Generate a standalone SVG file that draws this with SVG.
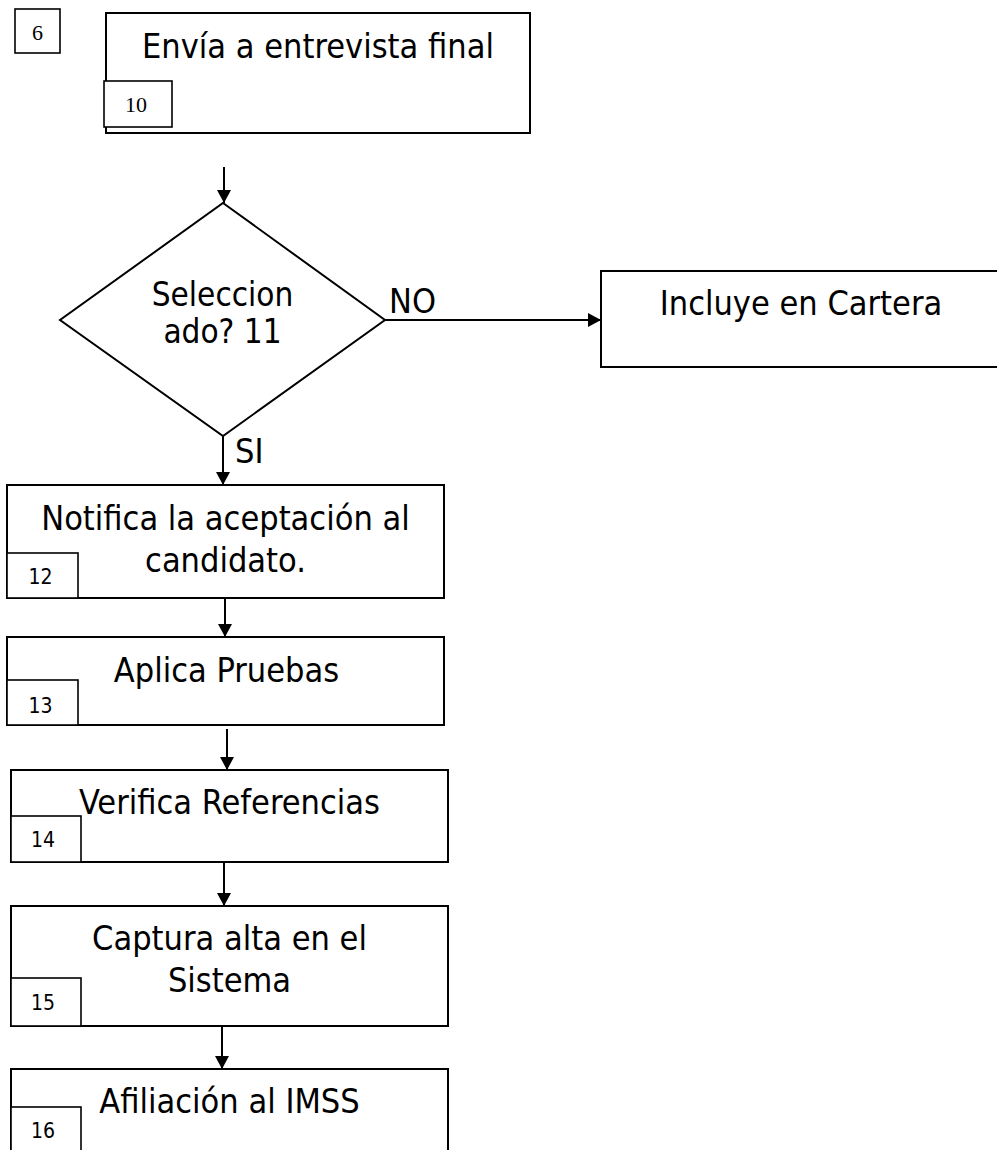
<svg xmlns="http://www.w3.org/2000/svg" width="997" height="1150" viewBox="0 0 997 1150">
<style>
.box{fill:#fff;stroke:#000;stroke-width:2}
.num{fill:#fff;stroke:#000;stroke-width:1.6}
.t{font-family:"DejaVu Sans Condensed","DejaVu Sans","Liberation Sans",sans-serif;font-stretch:condensed;font-size:34px;fill:#000;text-anchor:middle}
.td{font-family:"DejaVu Sans Condensed","DejaVu Sans","Liberation Sans",sans-serif;font-stretch:condensed;font-size:33px;fill:#000;text-anchor:middle}
.lbl{font-family:"DejaVu Sans Condensed","DejaVu Sans","Liberation Sans",sans-serif;font-stretch:condensed;font-size:34px;fill:#000}
.ns{font-family:"DejaVu Sans Condensed","DejaVu Sans","Liberation Sans",sans-serif;font-stretch:condensed;font-size:21px;fill:#000;text-anchor:middle}
.nr{font-family:"Liberation Serif","Times New Roman",serif;font-size:22px;fill:#000;text-anchor:middle}
.c{stroke:#000;stroke-width:2;fill:none;marker-end:url(#ah)}
</style>
<defs>
<marker id="ah" markerUnits="userSpaceOnUse" markerWidth="14" markerHeight="14" refX="13" refY="7" orient="auto">
<path d="M0,0 L13,7 L0,14 Z" fill="#000"/>
</marker>
</defs>
<rect width="997" height="1150" fill="#fff"/>
<g id="n6">
<rect class="num" x="15" y="9" width="45" height="44"/>
<text class="nr" x="37.5" y="40">6</text>
</g>
<g id="n10">
<rect class="box" x="106" y="13" width="424" height="120"/>
<text class="t" x="318" y="58">Envía a entrevista final</text>
<rect class="num" x="104" y="81" width="68" height="46"/>
<text class="nr" x="136" y="112">10</text>
</g>
<g id="n11">
<polygon class="box" points="223,203 385,320 223,436 60,320"/>
<text class="td" x="222.5" y="306">Seleccion</text>
<text class="td" x="222.5" y="343">ado? 11</text>
</g>
<g id="ncartera">
<rect class="box" x="601" y="271" width="397" height="96"/>
<text class="t" x="801" y="315">Incluye en Cartera</text>
</g>
<g id="n12">
<rect class="box" x="7" y="485" width="437" height="113"/>
<text class="t" x="225.5" y="530">Notifica la aceptación al</text>
<text class="t" x="225.5" y="572">candidato.</text>
<rect class="num" x="7" y="553" width="71" height="45"/>
<text class="ns" x="40.5" y="584">12</text>
</g>
<g id="n13">
<rect class="box" x="7" y="637" width="437" height="88"/>
<text class="t" x="226.5" y="682">Aplica Pruebas</text>
<rect class="num" x="7" y="680" width="71" height="45"/>
<text class="ns" x="40.5" y="713">13</text>
</g>
<g id="n14">
<rect class="box" x="11" y="770" width="437" height="92"/>
<text class="t" x="229.5" y="814">Verifica Referencias</text>
<rect class="num" x="11" y="816" width="70" height="46"/>
<text class="ns" x="43" y="847">14</text>
</g>
<g id="n15">
<rect class="box" x="11" y="906" width="437" height="120"/>
<text class="t" x="229.5" y="950">Captura alta en el</text>
<text class="t" x="229.5" y="992">Sistema</text>
<rect class="num" x="11" y="978" width="70" height="48"/>
<text class="ns" x="43" y="1010">15</text>
</g>
<g id="n16">
<rect class="box" x="11" y="1069" width="437" height="100"/>
<text class="t" x="229.5" y="1113">Afiliación al IMSS</text>
<rect class="num" x="11" y="1107" width="70" height="60"/>
<text class="ns" x="43" y="1138">16</text>
</g>
<g id="connectors">
<line class="c" x1="224" y1="167" x2="224" y2="203"/>
<line class="c" x1="385" y1="320" x2="601" y2="320"/>
<line class="c" x1="223" y1="436" x2="223" y2="485"/>
<line class="c" x1="225" y1="598" x2="225" y2="637"/>
<line class="c" x1="227" y1="729" x2="227" y2="770"/>
<line class="c" x1="224" y1="862" x2="224" y2="906"/>
<line class="c" x1="222" y1="1026" x2="222" y2="1069"/>
<text class="lbl" x="389" y="313">NO</text>
<text class="lbl" x="235" y="463">SI</text>
</g>
</svg>
